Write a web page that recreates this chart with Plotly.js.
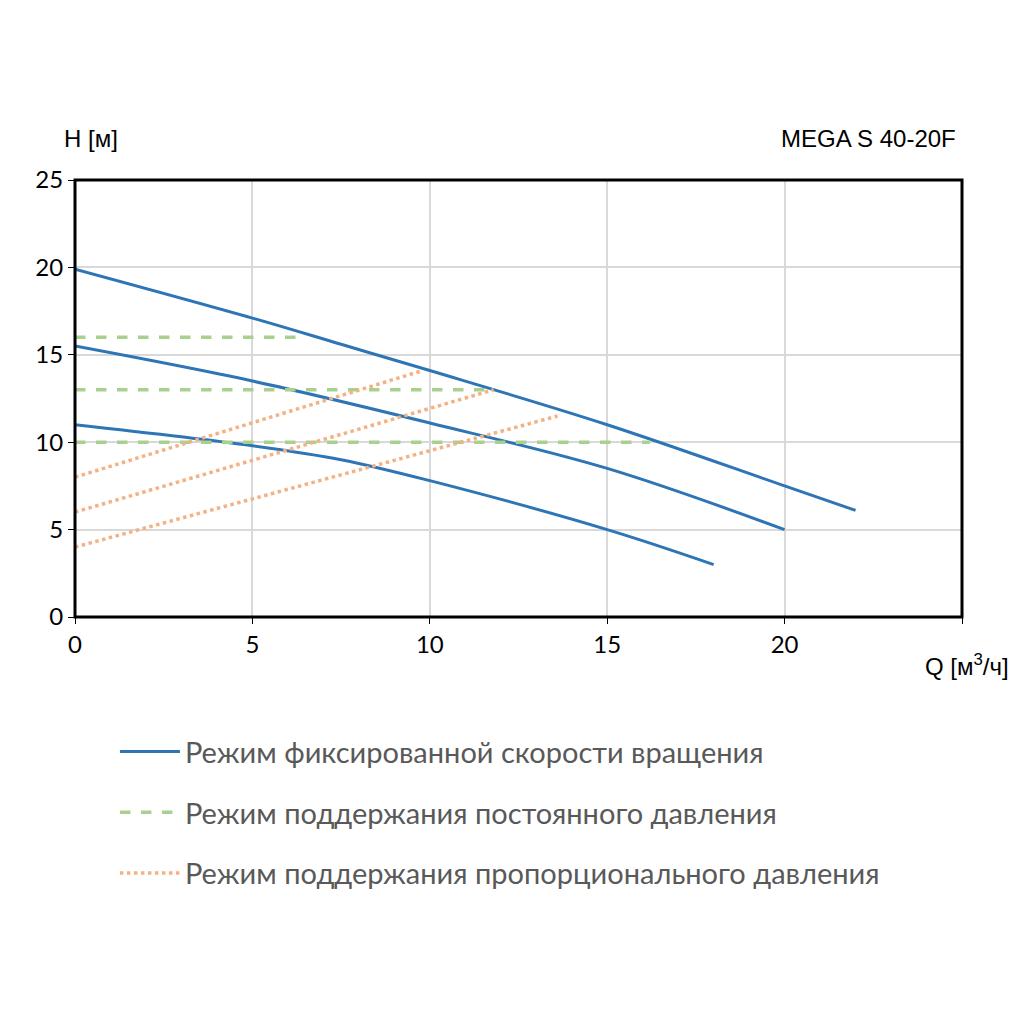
<!DOCTYPE html>
<html><head><meta charset="utf-8">
<script src="https://cdn.plot.ly/plotly-3.0.1.min.js"></script>
<style>body{margin:0}</style></head>
<body><div id="chart" style="width:1024px;height:1024px"></div>
<script>
// кривые фиксированной скорости
var fixQ1 = [0, 5, 7.5, 10, 15, 20, 22];
var fixH1 = [19.9, 17.1, 15.6, 14.1, 11, 7.5, 6.1];
var fixQ2 = [0, 5, 10, 15, 20];
var fixH2 = [15.5, 13.5, 11.1, 8.5, 5];
var fixQ3 = [0, 5, 7.5, 10, 15, 18];
var fixH3 = [11, 9.8, 9, 7.8, 5, 3];
// постоянное давление
var constH = [16, 13, 10];
var constQend = [6.5, 11.7, 16.2];
// пропорциональное давление
var propH0 = [8, 6, 4];
var propQend = [9.8, 11.8, 13.6];
var propHend = [14.1, 13, 11.5];

var names = ['Режим фиксированной скорости вращения',
             'Режим поддержания постоянного давления',
             'Режим поддержания пропорционального давления'];

var blue = '#2e75b6', green = '#a9d18e', orange = '#f4b183';
var traces = [];
[[fixQ1, fixH1], [fixQ2, fixH2], [fixQ3, fixH3]].forEach(function (c, i) {
    traces.push({x: c[0], y: c[1], mode: 'lines', line: {color: blue, width: 3, shape: 'spline'},
        name: names[0], legendgroup: 'a', showlegend: i == 0});
});
for (var i = 0; i < 3; i++) {
    traces.push({x: [0, constQend[i]], y: [constH[i], constH[i]], mode: 'lines',
        line: {color: green, width: 3.5, dash: 'dash'}, name: names[1], legendgroup: 'b', showlegend: i == 0});
}
for (i = 0; i < 3; i++) {
    traces.push({x: [0, propQend[i]], y: [propH0[i], propHend[i]], mode: 'lines',
        line: {color: orange, width: 3.5, dash: 'dot'}, name: names[2], legendgroup: 'c', showlegend: i == 0});
}

var layout = {
    width: 1024, height: 1024,
    margin: {l: 75, r: 62, t: 180, b: 407},
    paper_bgcolor: 'white', plot_bgcolor: 'white',
    font: {family: 'Lato, sans-serif', size: 24, color: '#000'},
    xaxis: {range: [0, 25], showgrid: true, gridcolor: '#d9d9d9', gridwidth: 1.5,
        zeroline: false, ticks: 'outside', ticklen: 6, tickcolor: '#000', tickvals: [0, 5, 10, 15, 20, 25],
        ticktext: ['0', '5', '10', '15', '20', ''], tickfont: {size: 24}},
    yaxis: {range: [0, 25], dtick: 5, showgrid: true, gridcolor: '#d9d9d9', gridwidth: 1.5,
        zeroline: false, ticks: 'outside', ticklen: 6, tickcolor: '#000', tickfont: {size: 24}},
    shapes: [{type: 'rect', xref: 'paper', yref: 'paper', x0: 0, x1: 1, y0: 0, y1: 1,
        line: {color: '#000', width: 3}}],
    annotations: [
        {text: 'H [м]', xref: 'paper', yref: 'paper', x: -0.015, y: 1.06, xanchor: 'left', yanchor: 'bottom',
            showarrow: false, font: {size: 24, family: 'Liberation Sans'}},
        {text: 'MEGA S 40-20F', xref: 'paper', yref: 'paper', x: 0.995, y: 1.06, xanchor: 'right', yanchor: 'bottom',
            showarrow: false, font: {size: 24, family: 'Liberation Sans'}},
        {text: 'Q [м<sup>3</sup>/ч]', xref: 'paper', yref: 'paper', x: 1.055, y: -0.07, xanchor: 'right', yanchor: 'top',
            showarrow: false, font: {size: 24, family: 'Liberation Sans'}}
    ],
    showlegend: true,
    legend: {x: 0.045, y: -0.25, xanchor: 'left', yanchor: 'top', orientation: 'v',
        font: {size: 29, color: '#595959'}, tracegroupgap: 20, itemwidth: 60}
};
Plotly.newPlot('chart', traces, layout, {displayModeBar: false});
</script></body></html>
